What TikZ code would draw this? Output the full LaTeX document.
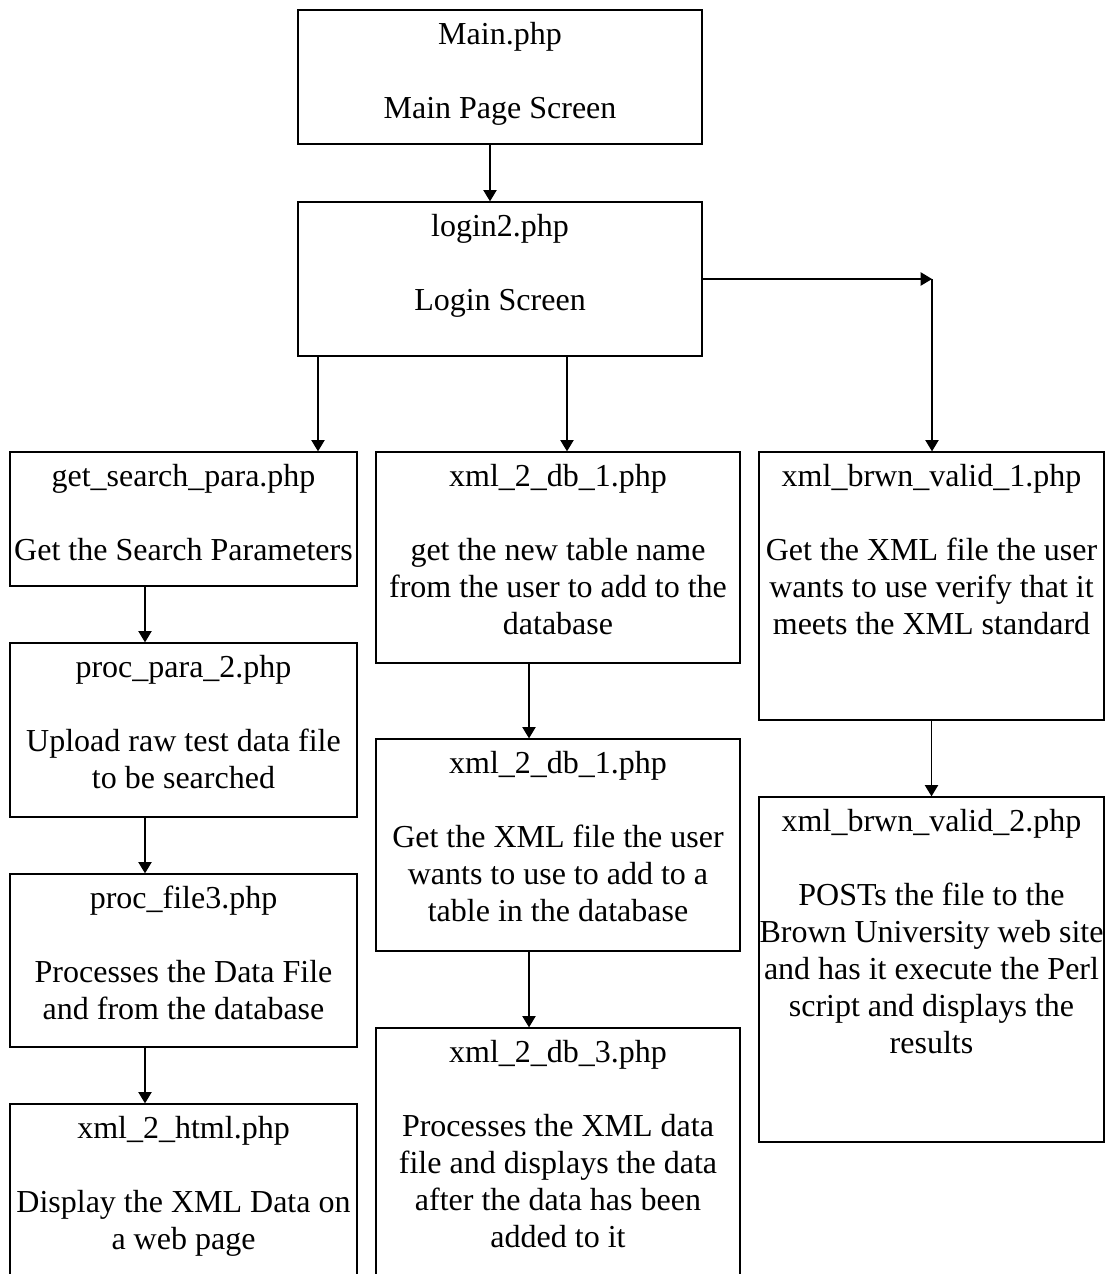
\documentclass[tikz,border=0pt]{standalone}
\usepackage{fontspec}
\setmainfont{Liberation Serif}
\usetikzlibrary{arrows.meta,fit}
\newcommand{\lns}[1]{\begin{tabular}[t]{@{}c@{}}#1\end{tabular}}
\begin{document}
\begin{tikzpicture}[x=0.75pt,y=-0.75pt,
  box/.style={draw,line width=1pt,inner sep=0pt,rectangle},
  txt/.style={anchor=base,inner sep=0pt,font=\fontsize{24}{27.75}\selectfont},
  arr/.style={line width=1pt,-{Triangle[length=8.5pt,width=10pt]}}]
\clip (0,0) rectangle (1105,1274);
\fill[white] (0,0) rectangle (1105,1274);
% boxes
\node[box,fit={(298,10) (702,144)}] (main) {};
\node[box,fit={(298,202) (702,356)}] (login) {};
\node[box,fit={(10,452) (357,586)}] (get) {};
\node[box,fit={(376,452) (740,663)}] (db1) {};
\node[box,fit={(759,452) (1104,720)}] (brwn1) {};
\node[box,fit={(10,643) (357,817)}] (para2) {};
\node[box,fit={(10,874) (357,1047)}] (file3) {};
\node[box,fit={(10,1104) (357,1295)}] (html) {};
\node[box,fit={(376,739) (740,951)}] (db1b) {};
\node[box,fit={(376,1028) (740,1295)}] (db3) {};
\node[box,fit={(759,797) (1104,1142)}] (brwn2) {};
% titles
\node[txt] (mainT) at ([yshift=-26.25pt]main.north) {Main.php};
\node[txt] (loginT) at ([yshift=-26.25pt]login.north) {login2.php};
\node[txt] (getT) at ([yshift=-26.25pt]get.north) {get\_search\_para.php};
\node[txt] (db1T) at ([yshift=-26.25pt]db1.north) {xml\_2\_db\_1.php};
\node[txt] (brwn1T) at ([yshift=-26.25pt]brwn1.north) {xml\_brwn\_valid\_1.php};
\node[txt] (para2T) at ([yshift=-26.25pt]para2.north) {proc\_para\_2.php};
\node[txt] (file3T) at ([yshift=-26.25pt]file3.north) {proc\_file3.php};
\node[txt] (htmlT) at ([yshift=-26.25pt]html.north) {xml\_2\_html.php};
\node[txt] (db1bT) at ([yshift=-26.25pt]db1b.north) {xml\_2\_db\_1.php};
\node[txt] (db3T) at ([yshift=-26.25pt]db3.north) {xml\_2\_db\_3.php};
\node[txt] (brwn2T) at ([yshift=-26.25pt]brwn2.north) {xml\_brwn\_valid\_2.php};
% descriptions
\node[txt] (mainD) at ([yshift=-81.75pt]main.north) {Main Page Screen};
\node[txt] (loginD) at ([yshift=-81.75pt]login.north) {Login Screen};
\node[txt] (getD) at ([yshift=-81.75pt]get.north) {Get the Search Parameters};
\node[txt] (db1D) at ([yshift=-81.75pt]db1.north) {\lns{get the new table name\\from the user to add to the\\database}};
\node[txt] (brwn1D) at ([yshift=-81.75pt]brwn1.north) {\lns{Get the XML file the user\\wants to use verify that it\\meets the XML standard}};
\node[txt] (para2D) at ([yshift=-81.75pt]para2.north) {\lns{Upload raw test data file\\to be searched}};
\node[txt] (file3D) at ([yshift=-81.75pt]file3.north) {\lns{Processes the Data File\\and from the database}};
\node[txt] (htmlD) at ([yshift=-81.75pt]html.north) {\lns{Display the XML Data on\\a web page}};
\node[txt] (db1bD) at ([yshift=-81.75pt]db1b.north) {\lns{Get the XML file the user\\wants to use to add to a\\table in the database}};
\node[txt] (db3D) at ([yshift=-81.75pt]db3.north) {\lns{Processes the XML data\\file and displays the data\\after the data has been\\added to it}};
\node[txt] (brwn2D) at ([yshift=-81.75pt]brwn2.north) {\lns{POSTs the file to the\\Brown University web site\\and has it execute the Perl\\script and displays the\\results}};
% connectors
\draw[arr] ([xshift=-7.5pt]main.south) -- ([xshift=-7.5pt]login.north);
\draw[arr] ([xshift=-136.5pt]login.south) -- ([xshift=-136.5pt]login.south |- get.north);
\draw[arr] ([xshift=50.25pt]login.south) -- ([xshift=50.25pt]login.south |- db1.north);
\coordinate (corner) at (932,279);
\draw[arr] (login.east) -- (corner);
\draw[arr] (corner) -- (corner |- brwn1.north);
\draw[arr] ([xshift=-28.875pt]get.south) -- ([xshift=-28.875pt]para2.north);
\draw[arr] ([xshift=-28.875pt]para2.south) -- ([xshift=-28.875pt]file3.north);
\draw[arr] ([xshift=-28.875pt]file3.south) -- ([xshift=-28.875pt]html.north);
\draw[arr] ([xshift=-21.75pt]db1.south) -- ([xshift=-21.75pt]db1b.north);
\draw[arr] ([xshift=-21.75pt]db1b.south) -- ([xshift=-21.75pt]db3.north);
\draw[arr] (brwn1.south) -- (brwn2.north);
\end{tikzpicture}
\end{document}
